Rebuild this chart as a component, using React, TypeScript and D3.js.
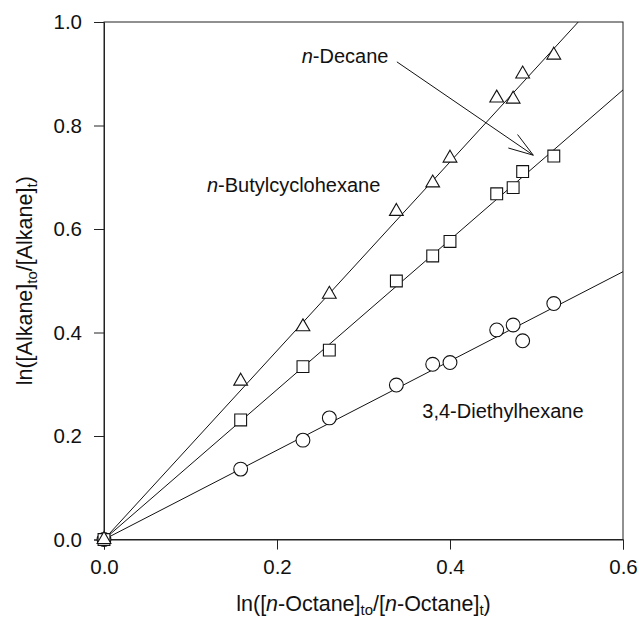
import { useEffect, useRef } from 'react'
import * as d3 from 'd3'

// sampling points (ln of n-octane ratio), shared by the three alkanes
const octaneX = [0, 0.158, 0.23, 0.2605, 0.338, 0.38, 0.4, 0.454, 0.473, 0.484, 0.52]
const butylcyclohexaneY = [0, 0.306, 0.411, 0.474, 0.634, 0.689, 0.737, 0.853, 0.851, 0.8995, 0.936]
const decaneY = [0, 0.231, 0.334, 0.366, 0.4995, 0.548, 0.576, 0.668, 0.68, 0.711, 0.741]
const diethylhexaneY = [0, 0.136, 0.192, 0.235, 0.2985, 0.3385, 0.342, 0.405, 0.4145, 0.384, 0.456]

// fitted slopes of the lines through the origin
const slopes = { butylcyclohexane: 1.824, decane: 1.448, diethylhexane: 0.8625 }

const xTicks = [0, 0.2, 0.4, 0.6]
const yTicks = [0, 0.2, 0.4, 0.6, 0.8, 1.0]

const FONT = '"Liberation Sans", Arial, sans-serif'

export default function App() {
  const svgRef = useRef<SVGSVGElement>(null)

  useEffect(() => {
    if (!svgRef.current) return
    const svg = d3.select(svgRef.current)
    svg.selectAll('*').remove()

    const margin = { top: 22, right: 16, bottom: 80.5, left: 104 }
    const width = 639
    const height = 620
    const innerWidth = width - margin.left - margin.right
    const innerHeight = height - margin.top - margin.bottom

    const x = d3.scaleLinear().domain([0, 0.6]).range([0, innerWidth])
    const y = d3.scaleLinear().domain([0, 1]).range([innerHeight, 0])

    const g = svg.append('g').attr('transform', `translate(${margin.left},${margin.top})`)

    // frame (top/right)
    g.append('rect')
      .attr('x', 0).attr('y', 0)
      .attr('width', innerWidth).attr('height', innerHeight)
      .attr('fill', 'none').attr('stroke', '#222').attr('stroke-width', 1)

    const xAxis = g.append('g')
      .attr('transform', `translate(0,${innerHeight})`)
      .call(d3.axisBottom(x).tickValues(xTicks).tickFormat(d3.format('.1f')).tickSize(10).tickPadding(9.5))
    const yAxis = g.append('g')
      .call(d3.axisLeft(y).tickValues(yTicks).tickFormat(d3.format('.1f')).tickSize(10).tickPadding(12))

    for (const ax of [xAxis, yAxis]) {
      ax.select('.domain').attr('stroke', '#222')
      ax.selectAll('line').attr('stroke', '#222')
      ax.selectAll('text').attr('font-family', FONT).attr('font-size', 20.5).attr('fill', '#111')
    }

    // regression lines clipped at the frame
    const lineOf = (k: number) => {
      const xe = Math.min(0.6, 1 / k)
      return [[0, 0], [xe, k * xe]] as [number, number][]
    }
    const line = d3.line<[number, number]>().x(d => x(d[0])).y(d => y(d[1]))
    for (const k of [slopes.diethylhexane, slopes.decane, slopes.butylcyclohexane]) {
      g.append('path')
        .datum(lineOf(k))
        .attr('fill', 'none')
        .attr('stroke', '#111')
        .attr('stroke-width', 1)
        .attr('d', line)
    }

    const series = [
      { ys: diethylhexaneY, symbol: d3.symbolCircle, size: 150 },
      { ys: decaneY, symbol: d3.symbolSquare, size: 140 },
      { ys: butylcyclohexaneY, symbol: d3.symbolTriangle, size: 82 },
    ]
    for (const s of series) {
      const sym = d3.symbol().type(s.symbol).size(s.size)
      g.selectAll(null)
        .data(octaneX.map((v, i) => [v, s.ys[i]]))
        .enter()
        .append('path')
        .attr('d', sym)
        .attr('transform', d => `translate(${x(d[0])},${y(d[1])})`)
        .attr('fill', 'white')
        .attr('stroke', '#111')
        .attr('stroke-width', 1.1)
    }

    // annotations
    const label = (tx: number, ty: number, italic: string, rest: string) => {
      const t = g.append('text')
        .attr('x', x(tx)).attr('y', y(ty))
        .attr('font-family', FONT).attr('font-size', 20).attr('fill', '#111')
      if (italic) t.append('tspan').attr('font-style', 'italic').text(italic)
      t.append('tspan').text(rest)
    }
    label(0.2286, 0.921, 'n', '-Decane')
    label(0.119, 0.6715, 'n', '-Butylcyclohexane')
    label(0.368, 0.234, '', '3,4-Diethylhexane')

    // arrow from n-Decane label to the decane line
    const a0: [number, number] = [0.3386, 0.923]
    const a1: [number, number] = [0.4963, 0.7426]
    g.append('line')
      .attr('x1', x(a0[0])).attr('y1', y(a0[1]))
      .attr('x2', x(a1[0])).attr('y2', y(a1[1]))
      .attr('stroke', '#111').attr('stroke-width', 1)
    const ang = Math.atan2(y(a1[1]) - y(a0[1]), x(a1[0]) - x(a0[0]))
    for (const da of [-0.32, 0.32]) {
      g.append('line')
        .attr('x1', x(a1[0])).attr('y1', y(a1[1]))
        .attr('x2', x(a1[0]) - 26 * Math.cos(ang + da))
        .attr('y2', y(a1[1]) - 26 * Math.sin(ang + da))
        .attr('stroke', '#111').attr('stroke-width', 1)
    }

    // axis titles
    const xt = svg.append('text')
      .attr('x', margin.left + innerWidth / 2).attr('y', 611)
      .attr('text-anchor', 'middle')
      .attr('font-family', FONT).attr('font-size', 21.5).attr('fill', '#111')
    xt.append('tspan').text('ln([')
    xt.append('tspan').attr('font-style', 'italic').text('n')
    xt.append('tspan').text('-Octane]')
    xt.append('tspan').attr('font-size', 15).attr('dy', 4).text('to')
    xt.append('tspan').attr('dy', -4).text('/[')
    xt.append('tspan').attr('font-style', 'italic').text('n')
    xt.append('tspan').text('-Octane]')
    xt.append('tspan').attr('font-size', 15).attr('dy', 4).text('t')
    xt.append('tspan').attr('dy', -4).text(')')

    const yt = svg.append('text')
      .attr('transform', `translate(32,${margin.top + innerHeight / 2}) rotate(-90)`)
      .attr('text-anchor', 'middle')
      .attr('font-family', FONT).attr('font-size', 21.5).attr('fill', '#111')
    yt.append('tspan').text('ln([Alkane]')
    yt.append('tspan').attr('font-size', 15).attr('dy', 5).text('to')
    yt.append('tspan').attr('dy', -5).text('/[Alkane]')
    yt.append('tspan').attr('font-size', 15).attr('dy', 5).text('t')
    yt.append('tspan').attr('dy', -5).text(')')
  }, [])

  return (
    <svg
      ref={svgRef}
      width={639}
      height={620}
      style={{ position: 'absolute', left: 0, top: 0, background: 'white' }}
    />
  )
}
